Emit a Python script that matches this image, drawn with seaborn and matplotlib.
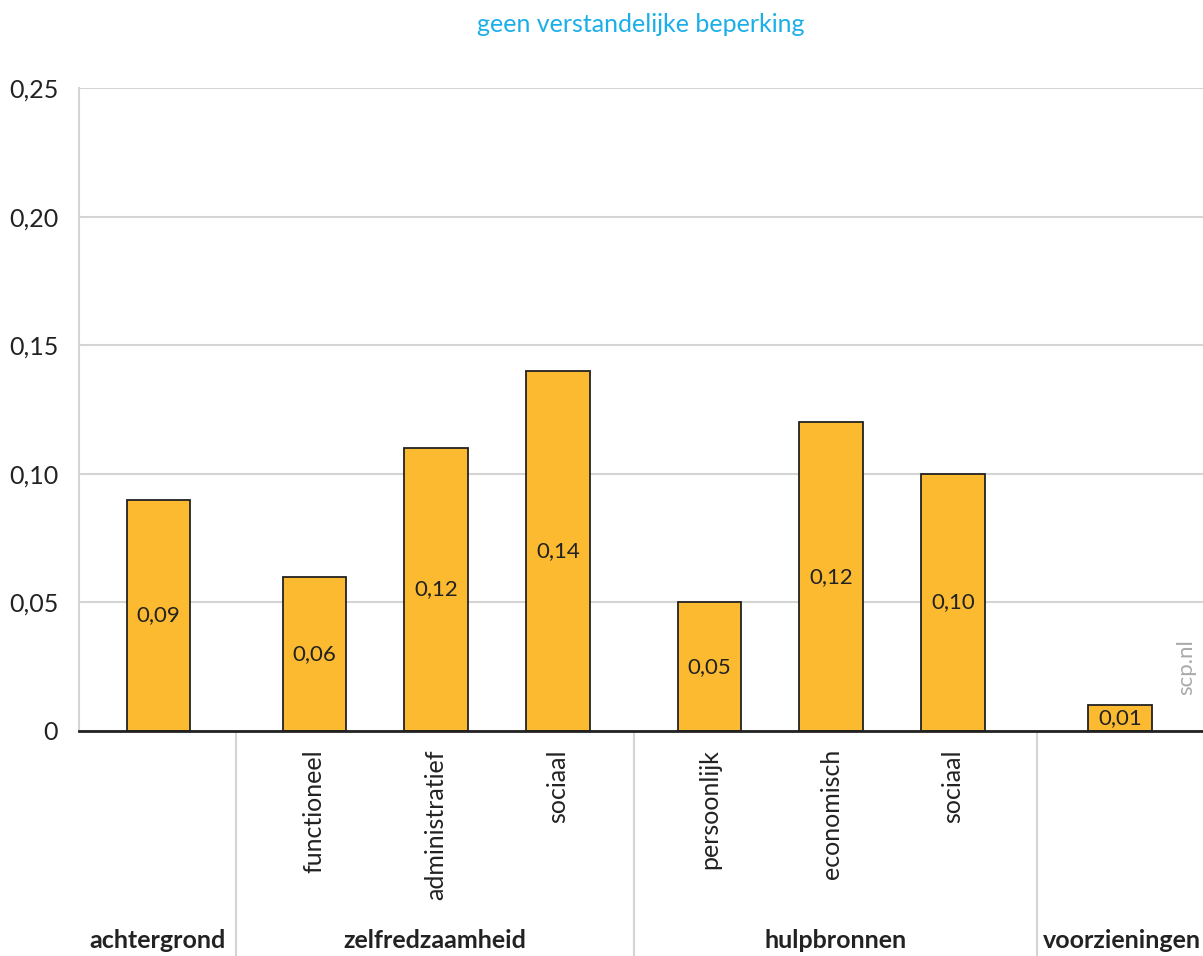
import pandas as pd
import seaborn as sns
import matplotlib.pyplot as plt

# data
categories = ["achtergrond", "functioneel", "administratief", "sociaal",
              "persoonlijk", "economisch", "sociaal ", "voorzieningen"]
groups = ["achtergrond", "zelfredzaamheid", "zelfredzaamheid", "zelfredzaamheid",
          "hulpbronnen", "hulpbronnen", "hulpbronnen", "voorzieningen"]
values = [0.09, 0.06, 0.11, 0.14, 0.05, 0.12, 0.10, 0.01]
value_labels = ["0,09", "0,06", "0,12", "0,14", "0,05", "0,12", "0,10", "0,01"]
yticks = [0, 0.05, 0.10, 0.15, 0.20, 0.25]
ytick_labels = ["0", "0,05", "0,10", "0,15", "0,20", "0,25"]
title = "geen verstandelijke beperking"

sns.set_style("white")
plt.rcParams["font.family"] = ["Lato", "DejaVu Sans"]

# positions: one slot per bar, extra gap between groups
gaps = [0.28, 0.24, 0.37]
pos = []
shift = 0.0
g_idx = 0
for i, g in enumerate(groups):
    if i > 0 and g != groups[i - 1]:
        shift += gaps[g_idx]
        g_idx += 1
    pos.append(i + shift)

df = pd.DataFrame({"pos": pos, "value": values, "cat": categories, "group": groups})

fig = plt.figure(figsize=(12.03, 9.56), dpi=100)
ax = fig.add_axes([79 / 1203, 1 - 731 / 956, 1 - 79 / 1203, (731 - 88) / 956])

sns.barplot(data=df, x="pos", y="value", native_scale=True, width=0.52,
            color="#FBBA30", edgecolor="#222222", linewidth=1.3, saturation=1,
            ax=ax, zorder=3)

xmin, xmax = -0.65, 8.57
ax.set_xlim(xmin, xmax)
ax.set_ylim(0, 0.25)
ax.set_yticks(yticks)
ax.set_yticklabels(ytick_labels, fontsize=18, color="#222222")
ax.tick_params(axis="y", length=0, pad=15)
ax.set_xticks([])
ax.yaxis.grid(True, color="#d4d4d4", linewidth=1.5, zorder=0)
ax.set_xlabel("")
ax.set_ylabel("")
for s in ["top", "right"]:
    ax.spines[s].set_visible(False)
ax.spines["left"].set_color("#d4d4d4")
ax.spines["left"].set_linewidth(1.5)
ax.spines["bottom"].set_color("#222222")
ax.spines["bottom"].set_linewidth(2)
ax.spines["bottom"].set_zorder(5)

# value labels in the middle of each bar
for x, v, lab in zip(pos, values, value_labels):
    ax.text(x, v / 2, lab, ha="center", va="center", fontsize=16, color="#222222", zorder=4)

# category labels (rotated) below axis
trans = ax.get_xaxis_transform()
for x, c, g in zip(pos, categories, groups):
    if c.strip() != g:
        ax.text(x, -0.028, c.strip(), rotation=90, ha="center", va="top",
                fontsize=18, color="#222222", transform=trans, clip_on=False)

# group labels and separators
group_names = []
for g in groups:
    if g not in group_names:
        group_names.append(g)
bounds = [xmin]
for i in range(1, len(groups)):
    if groups[i] != groups[i - 1]:
        bounds.append((pos[i] + pos[i - 1]) / 2)
bounds.append(xmax)
for k, g in enumerate(group_names):
    xm = (bounds[k] + bounds[k + 1]) / 2
    if k == len(group_names) - 1:
        ax.text(bounds[k + 1] - 0.02, -0.326, g, ha="right", va="center",
                fontsize=18, fontweight="bold", color="#222222", transform=trans, clip_on=False)
    else:
        ax.text(xm, -0.326, g, ha="center", va="center", fontsize=18,
                fontweight="bold", color="#222222", transform=trans, clip_on=False)
for b in bounds[1:-1]:
    ax.plot([b, b], [0, -0.36], color="#d4d4d4", linewidth=1.5, transform=trans, clip_on=False)

ax.text(0.985, 0.1, "scp.nl", rotation=90, ha="center", va="center", fontsize=16,
        color="#aaaaaa", transform=ax.transAxes)

ax.set_title(title, color="#1AAFE8", fontsize=18, pad=40)

fig.savefig("out.png", dpi=100)
